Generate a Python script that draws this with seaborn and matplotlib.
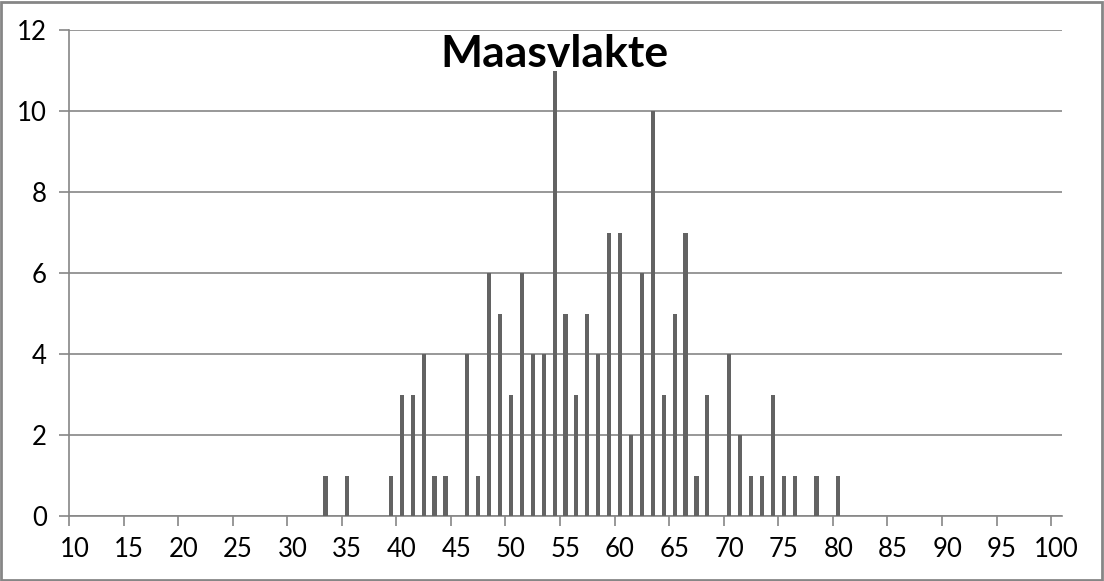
import numpy as np
import pandas as pd
import matplotlib
matplotlib.use("Agg")
import matplotlib.pyplot as plt
import seaborn as sns

# Observed values (category) and their counts
values = [33, 35, 39, 40, 41, 42, 43, 44, 46, 47, 48, 49, 50, 51, 52, 53, 54, 55,
          56, 57, 58, 59, 60, 61, 62, 63, 64, 65, 66, 67, 68, 70, 71, 72, 73, 74,
          75, 76, 78, 80]
counts = [1, 1, 1, 3, 3, 4, 1, 1, 4, 1, 6, 5, 3, 6, 4, 4, 11, 5,
          3, 5, 4, 7, 7, 2, 6, 10, 3, 5, 7, 1, 3, 4, 2, 1, 1, 3,
          1, 1, 1, 1]
cat_min, cat_max = 10, 100
title = "Maasvlakte"

categories = list(range(cat_min, cat_max + 1))
df = pd.DataFrame({"value": values, "count": counts}).set_index("value")
df = df.reindex(categories, fill_value=0).reset_index()
df["label"] = df["value"].astype(str)

sns.set_theme(style="white")
plt.rcParams['font.family'] = ['Lato', 'DejaVu Sans']

fig = plt.figure(figsize=(11.04, 5.81), dpi=100)
ax = fig.add_axes([69/1104, 1 - 516/581, (1062 - 69)/1104, (516 - 30)/581])

grid_c = "#868686"
sns.barplot(data=df, x="label", y="count", order=[str(c) for c in categories],
            color="#636363", width=0.38, ax=ax, zorder=3, saturation=1,
            linewidth=0, edgecolor="none")

ax.set_ylim(0, 12)
ax.set_xlim(-0.5, len(categories) - 0.5)
ax.set_yticks(np.arange(0, 13, 2))
ax.set_yticklabels([str(v) for v in range(0, 13, 2)], fontsize=18.5, color="black")
ax.yaxis.grid(True, color=grid_c, linewidth=1.2, zorder=0)
ax.set_axisbelow(True)

idx = np.arange(0, len(categories), 5)
ax.set_xticks(idx - 0.5)
ax.set_xticklabels([])
ax.set_xticks(idx, minor=True)
ax.set_xticklabels([str(categories[i]) for i in idx], minor=True, fontsize=18.5, color="black")
ax.tick_params(axis="x", which="major", length=7, width=1.2, color=grid_c, direction="out", bottom=True)
ax.tick_params(axis="x", which="minor", length=0, pad=15)
ax.tick_params(axis="y", length=7, width=1.2, color=grid_c, direction="out", left=True, pad=9)

for s in ["top", "right"]:
    ax.spines[s].set_visible(False)
for s in ["left", "bottom"]:
    ax.spines[s].set_color(grid_c)
    ax.spines[s].set_linewidth(1.2)

ax.set_xlabel("")
ax.set_ylabel("")

fig.text(0.502, 1 - 54/581, title, ha="center", va="center", fontsize=32,
         fontweight="bold", color="black")

border = plt.Rectangle((0.001, 0.002), 0.997, 0.995, transform=fig.transFigure,
                       fill=False, edgecolor=grid_c, linewidth=2)
fig.patches.append(border)

fig.savefig("out.png", dpi=100)
